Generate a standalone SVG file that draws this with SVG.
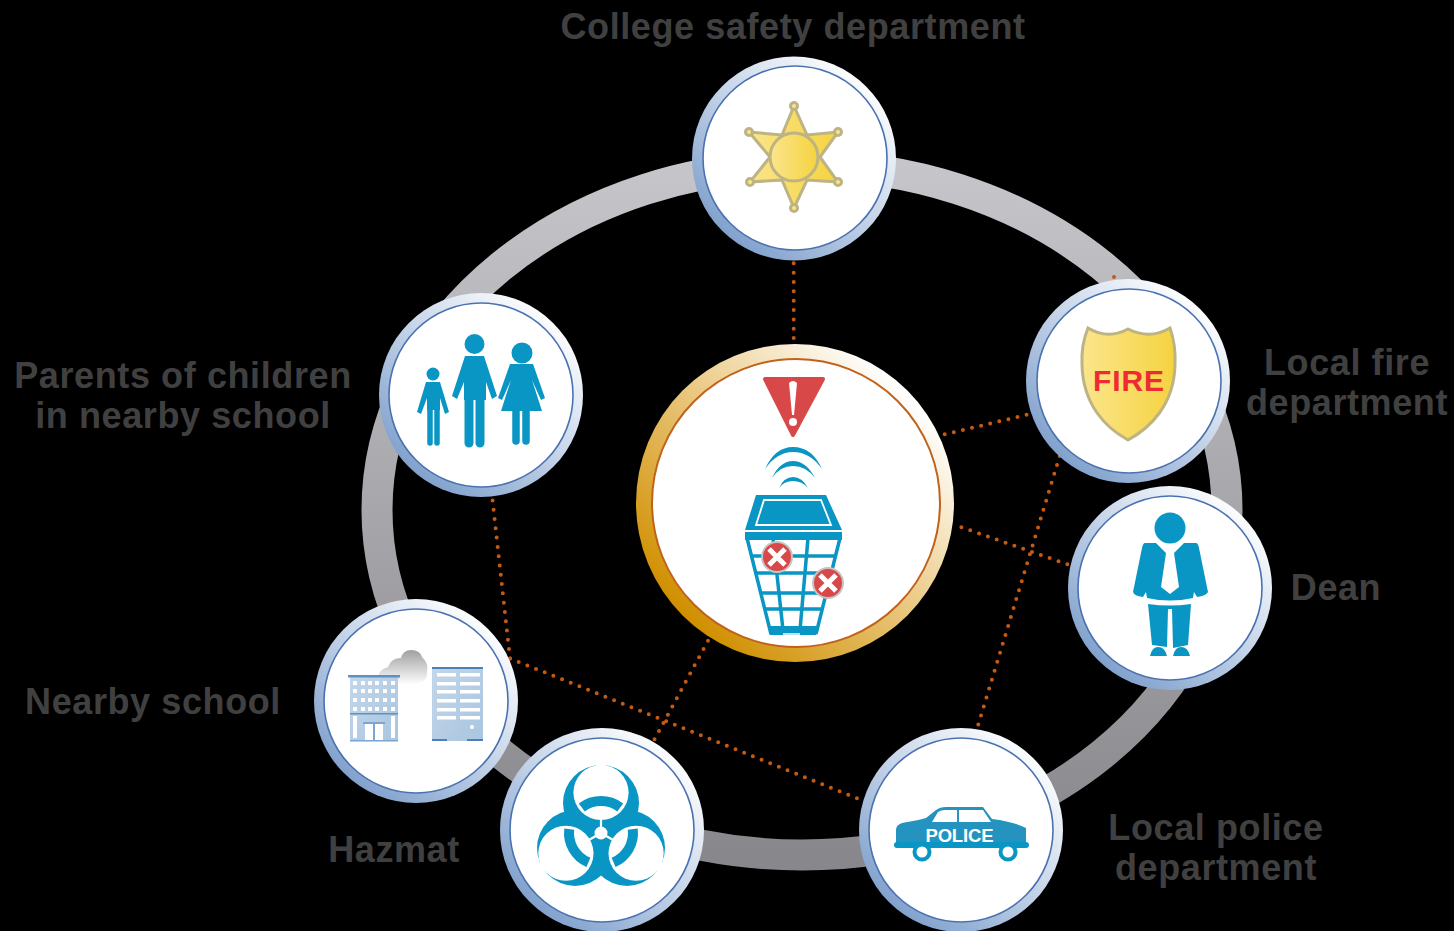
<svg xmlns="http://www.w3.org/2000/svg" xmlns:xlink="http://www.w3.org/1999/xlink" width="1454" height="931" viewBox="0 0 1454 931">
<style>
.lbl{font-family:"Liberation Sans",Arial,sans-serif;font-weight:700;font-size:36px;fill:#404040;text-anchor:middle;letter-spacing:.6px}
.rim{fill:url(#rimG)}
.face{fill:#fff;stroke:#4a72b0;stroke-width:1.6}
.dot{fill:none;stroke:#c55a11;stroke-width:4;stroke-linecap:round;stroke-dasharray:0 9.35}
.blue{fill:#0a96c4}
.bl{fill:none;stroke:#0a96c4;stroke-linecap:round}
.win{fill:#fff}
.gold{stroke:#bdb383;stroke-width:3;fill:url(#goldG)}
.bin{fill:none;stroke:#0a96c4;stroke-width:3.5}
.x{fill:#d94848;stroke:#c4c4c4;stroke-width:2}
.xm{stroke:#fff;stroke-width:5;fill:none}
</style>
<defs>
<linearGradient id="ringG" x1="0" y1="0" x2="0" y2="1"><stop offset="0" stop-color="#c6c5ca"/><stop offset="1" stop-color="#88888c"/></linearGradient>
<linearGradient id="rimG" x1=".15" y1=".9" x2=".85" y2=".1"><stop offset="0" stop-color="#7d9ecb"/><stop offset=".55" stop-color="#c9d7ea"/><stop offset="1" stop-color="#fff"/></linearGradient>
<linearGradient id="coreG" x1=".15" y1=".85" x2=".85" y2=".15"><stop offset="0" stop-color="#d08f00"/><stop offset=".5" stop-color="#e9c67b"/><stop offset="1" stop-color="#fff"/></linearGradient>
<linearGradient id="goldG" x1="0" y1="0" x2="1" y2="0"><stop offset="0" stop-color="#fbe58c"/><stop offset="1" stop-color="#f5d33f"/></linearGradient>
<linearGradient id="cloudG" x1="0" y1="0" x2="0" y2="1"><stop offset="0" stop-color="#a0a0a0"/><stop offset=".95" stop-color="#fff"/></linearGradient>
<linearGradient id="bldG" x1="0" y1="0" x2="1" y2="1"><stop offset="0" stop-color="#c4d7ea"/><stop offset="1" stop-color="#a9c5e0"/></linearGradient>
<path id="arcB" d="M-19.2,-25.600A32,32 0 0 1 19.2,-25.600" fill="none" stroke="#0a96c4" stroke-width="10"/>
<path id="gap" d="M0,-62V-70" fill="none" stroke="#fff" stroke-width="10"/>
</defs>
<rect width="1454" height="931" fill="#000"/>
<ellipse id="ring" cx="802" cy="510" rx="425" ry="345" fill="none" stroke="url(#ringG)" stroke-width="31"/>
<g id="connectors">
<path class="dot" d="M793.700,263.300V345"/>
<path class="dot" d="M944.700,434.300L1032,413.500"/>
<path class="dot" d="M1067.300,564.300L955,525"/>
<path class="dot" d="M1114,277L976,732"/>
<path class="dot" d="M510,658.400L492.500,500"/>
<path class="dot" d="M510,658.400L862,800.200"/>
<path class="dot" d="M708,640.700L652,744"/>
</g>
<g id="node-college">
<circle class="rim" cx="794" cy="158.500" r="102"/><circle class="face" cx="795" cy="158" r="92"/>
<path class="gold" d="M794,106L807,135L838,132L820,157L838,182L807,180L794,208L782,180L750,182L770,157L749,132L782,135Z"/>
<g fill="#f9e48e" stroke="#bdb383" stroke-width="3"><circle cx="794" cy="106" r="3.500"/><circle cx="794" cy="208" r="3.500"/><circle cx="749" cy="132" r="3.500"/><circle cx="838" cy="132" r="3.500"/><circle cx="750" cy="182" r="3.500"/><circle cx="838" cy="182" r="3.500"/></g>
<circle class="gold" cx="794" cy="157" r="24"/>
<text class="lbl" x="793" y="39">College safety department</text>
</g>
<g id="node-fire">
<circle class="rim" cx="1128" cy="381" r="102"/><circle class="face" cx="1129" cy="381" r="92"/>
<path class="gold" d="M1088,328Q1108,340 1128,329Q1150,340 1170,328Q1176,345 1175,365C1174,405 1150,428 1128,440C1106,428 1083,405 1082,365Q1081,345 1088,328Z"/>
<text x="1128.500" y="391" font-family="Liberation Sans,Arial,sans-serif" font-weight="700" font-size="30" fill="#ee2b33" text-anchor="middle" textLength="71">FIRE</text>
<text class="lbl" x="1347" y="375">Local fire</text>
<text class="lbl" x="1347" y="415">department</text>
</g>
<g id="node-dean">
<circle class="rim" cx="1170" cy="588" r="102"/><circle class="face" cx="1170" cy="588" r="92"/>
<path class="blue" d="M1145,543L1196,543Q1198,543 1199,548L1208,592Q1206,596 1197,597L1194,592L1193,598Q1170,603 1147,598L1146,592L1143,597Q1134,596 1133,592L1142,548Q1143,543 1145,543Z"/>
<path fill="#fff" d="M1155,542H1185L1174,553L1179,587L1170,594L1161,587L1166,553Z"/>
<circle class="blue" cx="1170" cy="528" r="15.500"/>
<path class="blue" d="M1148,604Q1170,607 1191,604L1188,645L1173,648L1172,609H1168L1167,647L1152,645Z"/>
<path class="blue" d="M1150,656Q1152,647 1158,647Q1165,647 1167,656ZM1173,656Q1175,647 1181,647Q1188,647 1190,656Z"/>
<text class="lbl" x="1336" y="600">Dean</text>
</g>
<g id="node-police">
<circle class="rim" cx="961" cy="830" r="102"/><circle class="face" cx="961" cy="830" r="92"/>
<path fill="#2493c0" d="M896,845V830Q896,825 902,823Q920,820 926,818L936,810Q940,807 946,807H983L992,819Q1015,822 1026,828V845Z"/>
<path fill="#fff" d="M932,822L938,812Q941,810 945,810H957V822ZM959,810H983L991,822H959Z"/>
<rect class="blue" x="894" y="842" width="135" height="6" rx="3"/>
<circle cx="922" cy="852" r="7.500" fill="#fff" stroke="#0a96c4" stroke-width="4"/>
<circle cx="1008" cy="852" r="7.500" fill="#fff" stroke="#0a96c4" stroke-width="4"/>
<text x="959.500" y="842" font-family="Liberation Sans,Arial,sans-serif" font-weight="700" font-size="18.500" fill="#fff" text-anchor="middle" textLength="68">POLICE</text>
<text class="lbl" x="1216" y="840">Local police</text>
<text class="lbl" x="1216" y="880">department</text>
</g>
<g id="node-school">
<circle class="rim" cx="416" cy="701" r="102"/><circle class="face" cx="416" cy="701" r="92"/>
<path fill="url(#cloudG)" d="M378,678Q378,670 388,667Q391,658 401,658Q403,650 411,650Q420,650 422,657Q429,663 427,672Q428,682 414,684Q400,688 384,686Q379,684 378,678Z"/>
<rect x="350" y="675" width="48" height="66" fill="url(#bldG)"/>
<rect x="348" y="675" width="52" height="2.500" fill="#5f8fc4"/>
<g class="win"><rect x="353" y="681" width="4" height="4"/><rect x="361" y="681" width="4" height="4"/><rect x="368" y="681" width="4" height="4"/><rect x="375" y="681" width="4" height="4"/><rect x="383" y="681" width="4" height="4"/><rect x="391" y="681" width="4" height="4"/>
<rect x="353" y="689" width="4" height="4"/><rect x="361" y="689" width="4" height="4"/><rect x="368" y="689" width="4" height="4"/><rect x="375" y="689" width="4" height="4"/><rect x="383" y="689" width="4" height="4"/><rect x="391" y="689" width="4" height="4"/>
<rect x="353" y="698" width="4" height="4"/><rect x="361" y="698" width="4" height="4"/><rect x="368" y="698" width="4" height="4"/><rect x="375" y="698" width="4" height="4"/><rect x="383" y="698" width="4" height="4"/><rect x="391" y="698" width="4" height="4"/>
<rect x="353" y="707" width="4" height="4"/><rect x="361" y="707" width="4" height="4"/><rect x="368" y="707" width="4" height="4"/><rect x="375" y="707" width="4" height="4"/><rect x="383" y="707" width="4" height="4"/><rect x="391" y="707" width="4" height="4"/>
<rect x="353" y="716" width="4" height="22"/><rect x="391" y="716" width="4" height="22"/>
<rect x="365" y="724" width="8" height="16"/><rect x="375" y="724" width="8" height="16"/></g>
<rect x="350" y="713" width="48" height="1.500" fill="#5f8fc4"/>
<rect x="363" y="722" width="22" height="2" fill="#7ba4cf"/>
<rect x="373" y="722" width="2" height="19" fill="#7ba4cf"/>
<rect x="350" y="740" width="48" height="1.500" fill="#7ba4cf"/>
<rect x="432" y="667" width="51" height="74" fill="url(#bldG)"/>
<rect x="432" y="667" width="51" height="2" fill="#4a7fb8"/>
<g class="win"><rect x="437" y="673" width="19" height="3.500"/><rect x="460" y="673" width="20" height="3.500"/><rect x="437" y="682" width="19" height="3.500"/><rect x="460" y="682" width="20" height="3.500"/><rect x="437" y="690" width="19" height="3.500"/><rect x="460" y="690" width="20" height="3.500"/><rect x="437" y="699" width="19" height="3.500"/><rect x="460" y="699" width="20" height="3.500"/><rect x="437" y="708" width="19" height="3.500"/><rect x="460" y="708" width="20" height="3.500"/><rect x="437" y="716" width="19" height="3.500"/><rect x="460" y="716" width="20" height="3.500"/><circle cx="472" cy="727" r="2"/></g>
<path d="M432,740H447M467,740H483" stroke="#4a7fb8" stroke-width="2"/>
<text class="lbl" x="153" y="714">Nearby school</text>
</g>
<g id="node-hazmat">
<circle class="rim" cx="602" cy="830" r="102"/><circle class="face" cx="602" cy="830" r="92"/>
<g transform="translate(601,833)">
<circle class="blue" cx="0" cy="-30" r="38"/>
<circle class="blue" cx="26" cy="15" r="38"/>
<circle class="blue" cx="-26" cy="15" r="38"/>
<circle cx="0" cy="-40.500" r="27.600" fill="#fff"/>
<circle cx="35.100" cy="20.250" r="27.600" fill="#fff"/>
<circle cx="-35.100" cy="20.250" r="27.600" fill="#fff"/>
<use xlink:href="#gap" href="#gap"/>
<use xlink:href="#gap" href="#gap" transform="rotate(120)"/>
<use xlink:href="#gap" href="#gap" transform="rotate(240)"/>
<use xlink:href="#arcB" href="#arcB"/>
<use xlink:href="#arcB" href="#arcB" transform="rotate(120)"/>
<use xlink:href="#arcB" href="#arcB" transform="rotate(240)"/>
<path d="M0,0V-15M0,0L13,7.500M0,0L-13,7.500" stroke="#fff" stroke-width="2.200"/>
<circle r="6.500" fill="#fff"/>
</g>
<text class="lbl" x="394" y="862">Hazmat</text>
</g>
<g id="node-parents">
<circle class="rim" cx="481" cy="395" r="102"/><circle class="face" cx="481" cy="395" r="92"/>
<circle class="blue" cx="474.500" cy="344" r="10"/>
<path class="blue" d="M465,356H484L497,396L492,399L486,382V400H464V382L457,399L452,396Z"/>
<path class="bl" stroke-width="9" d="M469,395V443M480,395V443"/>
<circle class="blue" cx="433" cy="374" r="6.500"/>
<path class="blue" d="M426,382H440L449,412L445,414L440,398V410H427V398L421,414L417,412Z"/>
<path class="bl" stroke-width="5.500" d="M430,408V443M437,408V443"/>
<circle class="blue" cx="522" cy="353" r="10.500"/>
<path class="blue" d="M510,364H533L545,398L541,400L532,380L542,411H501L511,380L502,400L498,398Z"/>
<path class="bl" stroke-width="7.500" d="M516,408V441M526,408V441"/>
<text class="lbl" x="183" y="388">Parents of children</text>
<text class="lbl" x="183" y="428">in nearby school</text>
</g>
<g id="node-center">
<circle fill="url(#coreG)" cx="795" cy="503" r="159"/>
<circle cx="796" cy="503" r="144" fill="#fff" stroke="#c0621a" stroke-width="2"/>
<path fill="#d94848" stroke="#d94848" stroke-width="4" stroke-linejoin="round" d="M765,379H823L793,435Z"/>
<path fill="#fff" d="M789,383Q793,379 797,383L794,415H792Z"/><circle cx="793" cy="422" r="4" fill="#fff"/>
<g fill="#0a96c4">
<path d="M765,469Q775,447 793,447Q812,447 822,469Q810,452 793,452Q777,452 765,469Z"/>
<path d="M772,478Q780,461 793,461Q806,461 815,478Q806,466 793,466Q780,466 772,478Z"/>
<path d="M779,488Q784,477 793,477Q802,477 808,488Q802,481 793,481Q784,481 779,488Z"/>
<path d="M756,495H826L842,530H745Z"/>
</g>
<path d="M764,500H821L831,525H756Z" fill="#0a96c4" stroke="#fff" stroke-width="1.800"/>
<path fill="#0a96c4" d="M745,532H842V540L841,540H746L745,540Z"/>
<path class="bin" d="M746.500,536L771,634M840.500,536L816,634"/>
<path class="bin" d="M750,556H836M755,573H832M760,593H827M764,609H823"/>
<path class="bin" stroke-width="5" d="M773,538L783,630M808,538L800,630"/>
<path fill="#0a96c4" d="M768,626H818L816,635H770Z"/>
<rect x="783" y="633" width="17" height="2" fill="#bfe0ee"/>
<circle class="x" cx="777" cy="557" r="15"/><path class="xm" d="M769,549L785,565M785,549L769,565"/>
<circle class="x" cx="828" cy="583" r="15"/><path class="xm" d="M820,575L836,591M836,575L820,591"/>
</g>
</svg>
